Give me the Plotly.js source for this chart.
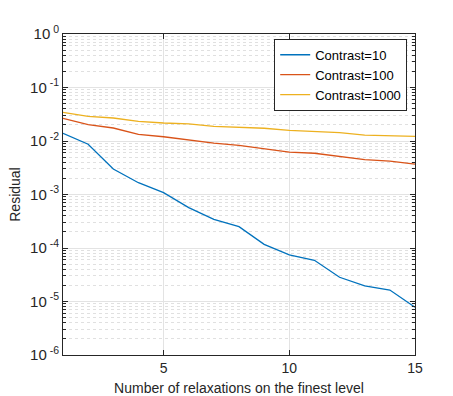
<!DOCTYPE html>
<html><head><meta charset="utf-8">
<script src="https://cdn.plot.ly/plotly-3.0.1.min.js"></script>
<style>html,body{margin:0;padding:0;background:#fff;}#chart{width:453px;height:396px;}</style>
</head><body><div id="chart"></div>
<script>
const relaxations = [1,2,3,4,5,6,7,8,9,10,11,12,13,14,15];
const contrast10 = [0.0139,0.0087,0.0030,0.00166,0.00108,0.00057,0.000343,0.000251,0.000117,0.0000741,0.0000589,0.0000284,0.0000195,0.0000164,0.0000078];
const contrast100 = [0.0265,0.0202,0.0175,0.0133,0.0120,0.0104,0.0091,0.0083,0.0072,0.0062,0.0059,0.0051,0.0045,0.0042,0.0037];
const contrast1000 = [0.0344,0.0289,0.0269,0.0233,0.0217,0.0209,0.0188,0.0178,0.0173,0.0158,0.0149,0.0143,0.0129,0.0124,0.0122];
const seriesNames = ['Contrast=10','Contrast=100','Contrast=1000'];
const xTicks = [5,10,15];
const yTickExponents = [-6,-5,-4,-3,-2,-1,0];

const minorVals = [];
yTickExponents.slice(0,-1).forEach(e=>{ for(let d=2; d<=9; d++) minorVals.push(d*Math.pow(10,e)); });

const colors = ['#0072BD','#D95319','#EDB120'];
const data = [contrast10, contrast100, contrast1000].map((y,i)=>({
  x: relaxations, y: y, type:'scatter', mode:'lines', name: seriesNames[i],
  line:{color:colors[i], width:1.3}
}));

const layout = {
  width:453, height:396,
  paper_bgcolor:'#fff', plot_bgcolor:'#fff',
  margin:{l:63, r:38, t:34, b:41},
  font:{family:'"Liberation Sans", Arial, sans-serif', size:14, color:'#262626'},
  showlegend:true,
  legend:{x:0.6, y:0.985, xanchor:'left', yanchor:'top', bgcolor:'#fff', bordercolor:'#262626', borderwidth:1,
    font:{size:13, color:'#000'}, tracegroupgap:0, itemwidth:30},
  xaxis:{
    range:[1,15], tickvals:xTicks, ticktext:xTicks.map(String),
    showline:true, linecolor:'#262626', linewidth:1, mirror:'ticks',
    ticks:'inside', ticklen:5, tickcolor:'#262626',
    showgrid:true, gridcolor:'#e3e3e3', gridwidth:1, zeroline:false,
    tickfont:{size:14, color:'#262626'},
    title:{text:'Number of relaxations on the finest level', font:{size:14, color:'#262626'}, standoff:9}
  },
  yaxis:{
    type:'log', range:[-6,0],
    tickvals: yTickExponents.map(e=>Math.pow(10,e)),
    ticktext: yTickExponents.map(e=>'10<sup> '+e+'</sup>'),
    showline:true, linecolor:'#262626', linewidth:1, mirror:'ticks',
    ticks:'inside', ticklen:5, tickcolor:'#262626',
    showgrid:true, gridcolor:'#e3e3e3', gridwidth:1, zeroline:false,
    tickfont:{size:15, color:'#262626'},
    minor:{tickmode:'array', tickvals:minorVals, ticks:'inside', ticklen:3, tickcolor:'#262626', showgrid:true, gridcolor:'#e0e0e0', griddash:'dot', gridwidth:1},
    title:{text:'Residual', font:{size:14, color:'#262626'}, standoff:6}
  }
};
Plotly.newPlot('chart', data, layout, {displayModeBar:false, staticPlot:true});
</script></body></html>
